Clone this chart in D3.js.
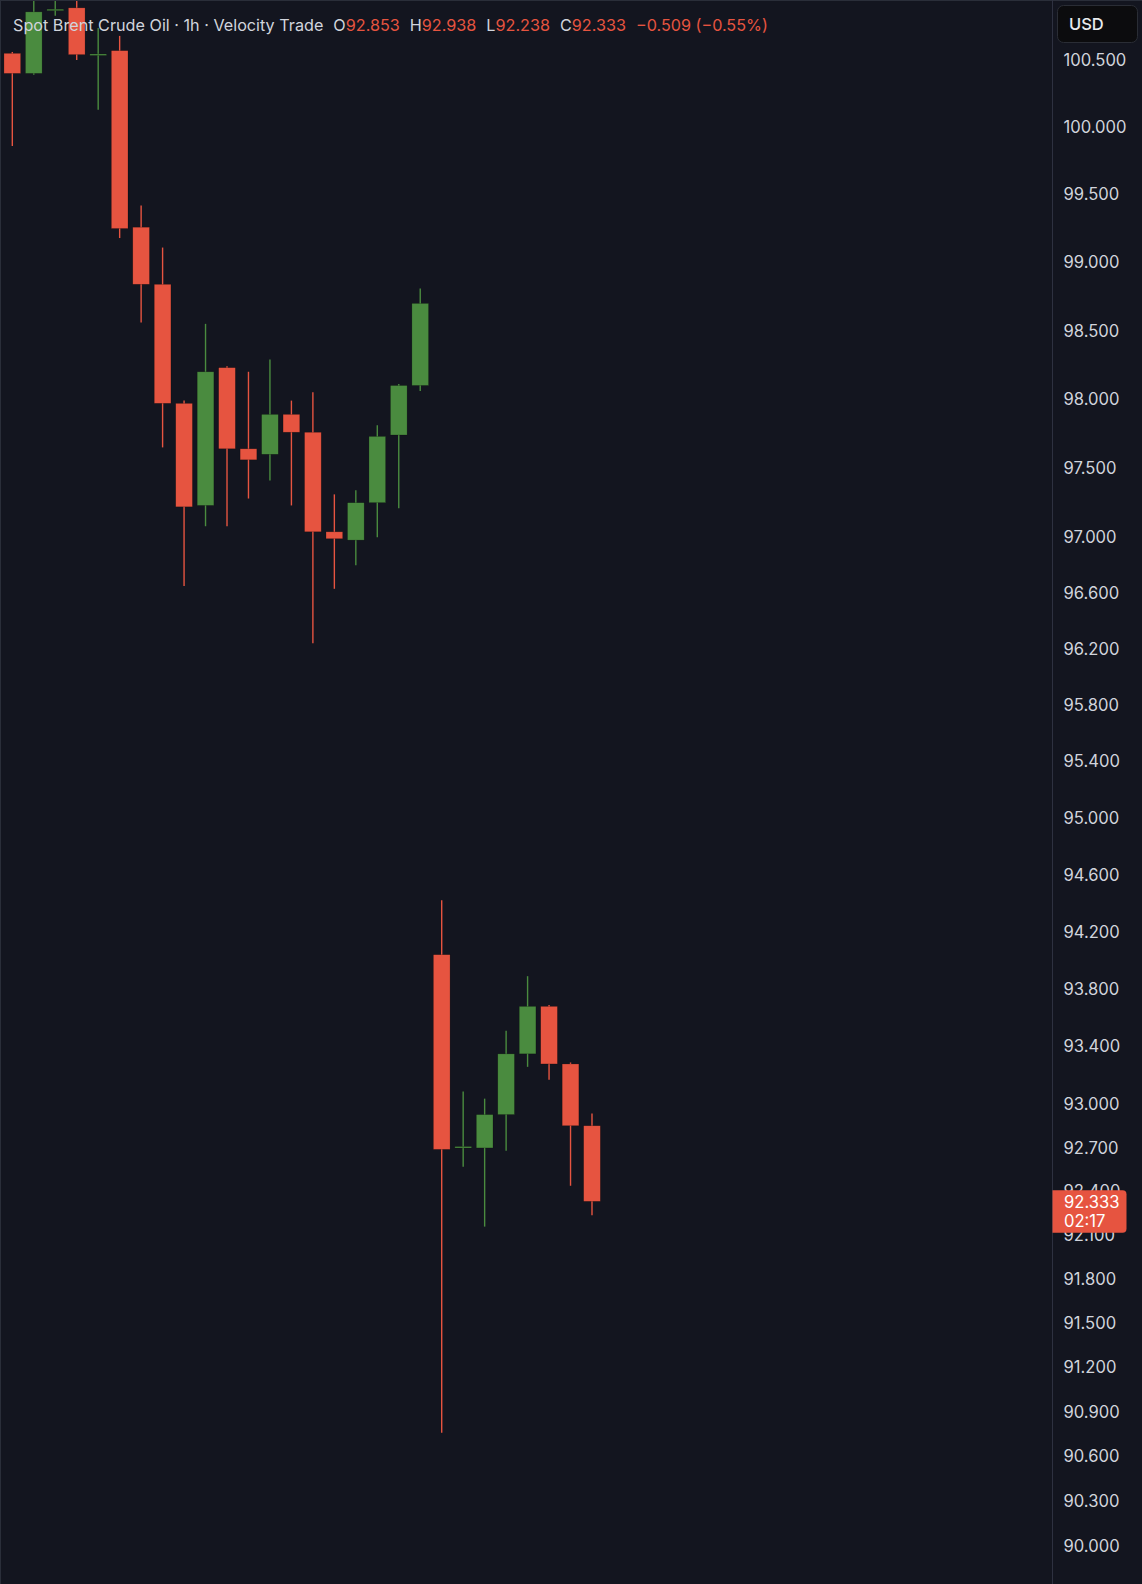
<!DOCTYPE html>
<html>

<head>
  <title>Spot Brent Crude Oil 1h</title>
  <script src="https://d3js.org/d3.v7.min.js"></script>

  <style type="text/css">
    html,
    body {
      margin: 0;
      padding: 0;
      background: #13151f;
    }

    svg {
      display: block;
      font-family: Inter, "Noto Sans", sans-serif;
    }

    .axis text {
      fill: #d1d4dc;
      font-size: 16.6px;
    }
  </style>
</head>

<body>
  <div id="chart"></div>

  <script type="text/javascript">
    // hourly bars (USD)
    var opens = [100.55, 100.40, 100.87, 100.89, 100.535, 100.57, 99.26, 98.84, 97.97, 97.23,
      98.23, 97.64, 97.60, 97.89, 97.76, 97.04, 96.98, 97.25, 97.74, 98.10,
      94.04, 92.70, 92.70, 92.93, 93.35, 93.68, 93.28, 92.853];
    var highs = [100.56, 101.00, 100.95, 100.97, 100.74, 100.68, 99.42, 99.11, 97.99, 98.55,
      98.24, 98.20, 98.29, 97.99, 98.05, 97.31, 97.34, 97.81, 98.11, 98.81,
      94.42, 93.09, 93.04, 93.51, 93.89, 93.69, 93.29, 92.938];
    var lows = [99.86, 100.39, 100.83, 100.50, 100.13, 99.18, 98.56, 97.65, 96.65, 97.08,
      97.08, 97.28, 97.41, 97.23, 96.24, 96.63, 96.80, 97.00, 97.21, 98.06,
      90.76, 92.57, 92.16, 92.68, 93.26, 93.17, 92.44, 92.238];
    var closes = [100.40, 100.86, 100.88, 100.54, 100.545, 99.25, 98.84, 97.97, 97.22, 98.20,
      97.64, 97.56, 97.89, 97.76, 97.04, 96.99, 97.25, 97.73, 98.10, 98.70,
      92.69, 92.71, 92.93, 93.35, 93.68, 93.28, 92.853, 92.333];

    var priceTicks = [100.5, 100, 99.5, 99, 98.5, 98, 97.5, 97, 96.6, 96.2, 95.8, 95.4, 95,
      94.6, 94.2, 93.8, 93.4, 93, 92.7, 92.4, 92.1, 91.8, 91.5, 91.2, 90.9, 90.6, 90.3, 90, 89.7];

    var lastPrice = 92.333;
    var countdown = "02:17";
    var change = -0.509, changePct = -0.55;

    var width = 1142, height = 1584;
    var paneRight = 1052;
    var up = "#4a8b3f", down = "#e65440";
    var textGray = "#d1d4dc";

    var candles = opens.map(function (o, i) {
      return { i: i, o: o, h: highs[i], l: lows[i], c: closes[i] };
    });

    var svg = d3.select("#chart").append("svg")
      .attr("width", width)
      .attr("height", height);

    svg.append("rect")
      .attr("width", width)
      .attr("height", height)
      .attr("fill", "#13151f");

    // log price scale like the TV chart
    var y = d3.scaleLog()
      .domain([90, 100.5])
      .range([1546, 60]);

    var step = 21.47;
    var x = d3.scaleBand()
      .domain(candles.map(function (d) { return d.i; }))
      .range([1.57, 1.57 + step * candles.length])
      .paddingInner(0.222)
      .paddingOuter(0.111);

    var pane = svg.append("g");

    var bar = pane.selectAll(".candle")
      .data(candles)
      .enter().append("g")
      .attr("class", "candle");

    bar.append("line")
      .attr("x1", function (d) { return x(d.i) + x.bandwidth() / 2; })
      .attr("x2", function (d) { return x(d.i) + x.bandwidth() / 2; })
      .attr("y1", function (d) { return y(d.h); })
      .attr("y2", function (d) { return y(d.l); })
      .attr("stroke", function (d) { return d.c >= d.o ? up : down; })
      .attr("stroke-width", 1.4);

    bar.append("rect")
      .attr("x", function (d) { return x(d.i); })
      .attr("width", x.bandwidth())
      .attr("y", function (d) { return y(Math.max(d.o, d.c)); })
      .attr("height", function (d) { return Math.max(1.5, Math.abs(y(d.o) - y(d.c))); })
      .attr("fill", function (d) { return d.c >= d.o ? up : down; })
      .attr("stroke", "rgba(0,0,0,0.35)")
      .attr("stroke-width", 0.6);

    // pane borders
    svg.append("line")
      .attr("x1", 0).attr("x2", width).attr("y1", 0.5).attr("y2", 0.5)
      .attr("stroke", "#2a2e39");
    svg.append("line")
      .attr("x1", 0.5).attr("x2", 0.5).attr("y1", 0).attr("y2", height)
      .attr("stroke", "#2a2e39");
    svg.append("line")
      .attr("x1", paneRight + 0.5).attr("x2", paneRight + 0.5)
      .attr("y1", 0).attr("y2", height)
      .attr("stroke", "#2e3140");

    // price axis
    svg.append("g")
      .attr("class", "axis")
      .attr("transform", "translate(" + paneRight + ",0)")
      .call(d3.axisRight(y)
        .tickValues(priceTicks)
        .tickFormat(function (d) { return d.toFixed(3); })
        .tickSize(0)
        .tickPadding(11.5))
      .call(function (g) { g.select(".domain").remove(); })
      .selectAll("text")
      .attr("font-family", "Inter, sans-serif");

    // last price badge (sits over the 92.400 / 92.100 labels, as in TV)
    var badge = svg.append("g")
      .attr("transform", "translate(" + (paneRight + 0.5) + "," + (y(lastPrice) - 11) + ")");
    badge.append("path")
      .attr("d", "M0,0 H70 Q74,0 74,4 V38.5 Q74,42.5 70,42.5 H0 Z")
      .attr("fill", down);
    badge.append("text")
      .attr("x", 11.5)
      .attr("y", 11.5)
      .attr("dy", "0.35em")
      .attr("fill", "#ffffff")
      .style("font-size", "16.6px")
      .text(lastPrice.toFixed(3));
    badge.append("text")
      .attr("x", 11.5)
      .attr("y", 31)
      .attr("dy", "0.35em")
      .attr("fill", "#ffffff")
      .style("font-size", "16.6px")
      .text(countdown);

    // currency button
    svg.append("rect")
      .attr("x", 1057.5).attr("y", 5.5)
      .attr("width", 80).attr("height", 37)
      .attr("rx", 6)
      .attr("fill", "#0c0c0e")
      .attr("stroke", "#2a2d35");
    svg.append("text")
      .attr("x", 1069).attr("y", 24)
      .attr("dy", "0.35em")
      .attr("fill", "#e9ebef")
      .style("font-size", "16.5px")
      .style("font-weight", 500)
      .text("USD");

    // legend line
    var last = candles[candles.length - 1];

    var legend = svg.append("text")
      .attr("x", 13)
      .attr("y", 25)
      .attr("dy", "0.35em")
      .style("font-size", "16.2px")
      .attr("fill", textGray);

    legend.append("tspan").text("Spot Brent Crude Oil \u00b7 1h \u00b7 Velocity Trade");
    [["O", last.o], ["H", last.h], ["L", last.l], ["C", last.c]].forEach(function (p) {
      legend.append("tspan").attr("dx", 10).attr("fill", textGray).text(p[0]);
      legend.append("tspan").attr("fill", down).text(p[1].toFixed(3));
    });
    legend.append("tspan").attr("dx", 10).attr("fill", down)
      .text("\u2212" + Math.abs(change).toFixed(3) + " (\u2212" + Math.abs(changePct).toFixed(2) + "%)");
  </script>
</body>

</html>
